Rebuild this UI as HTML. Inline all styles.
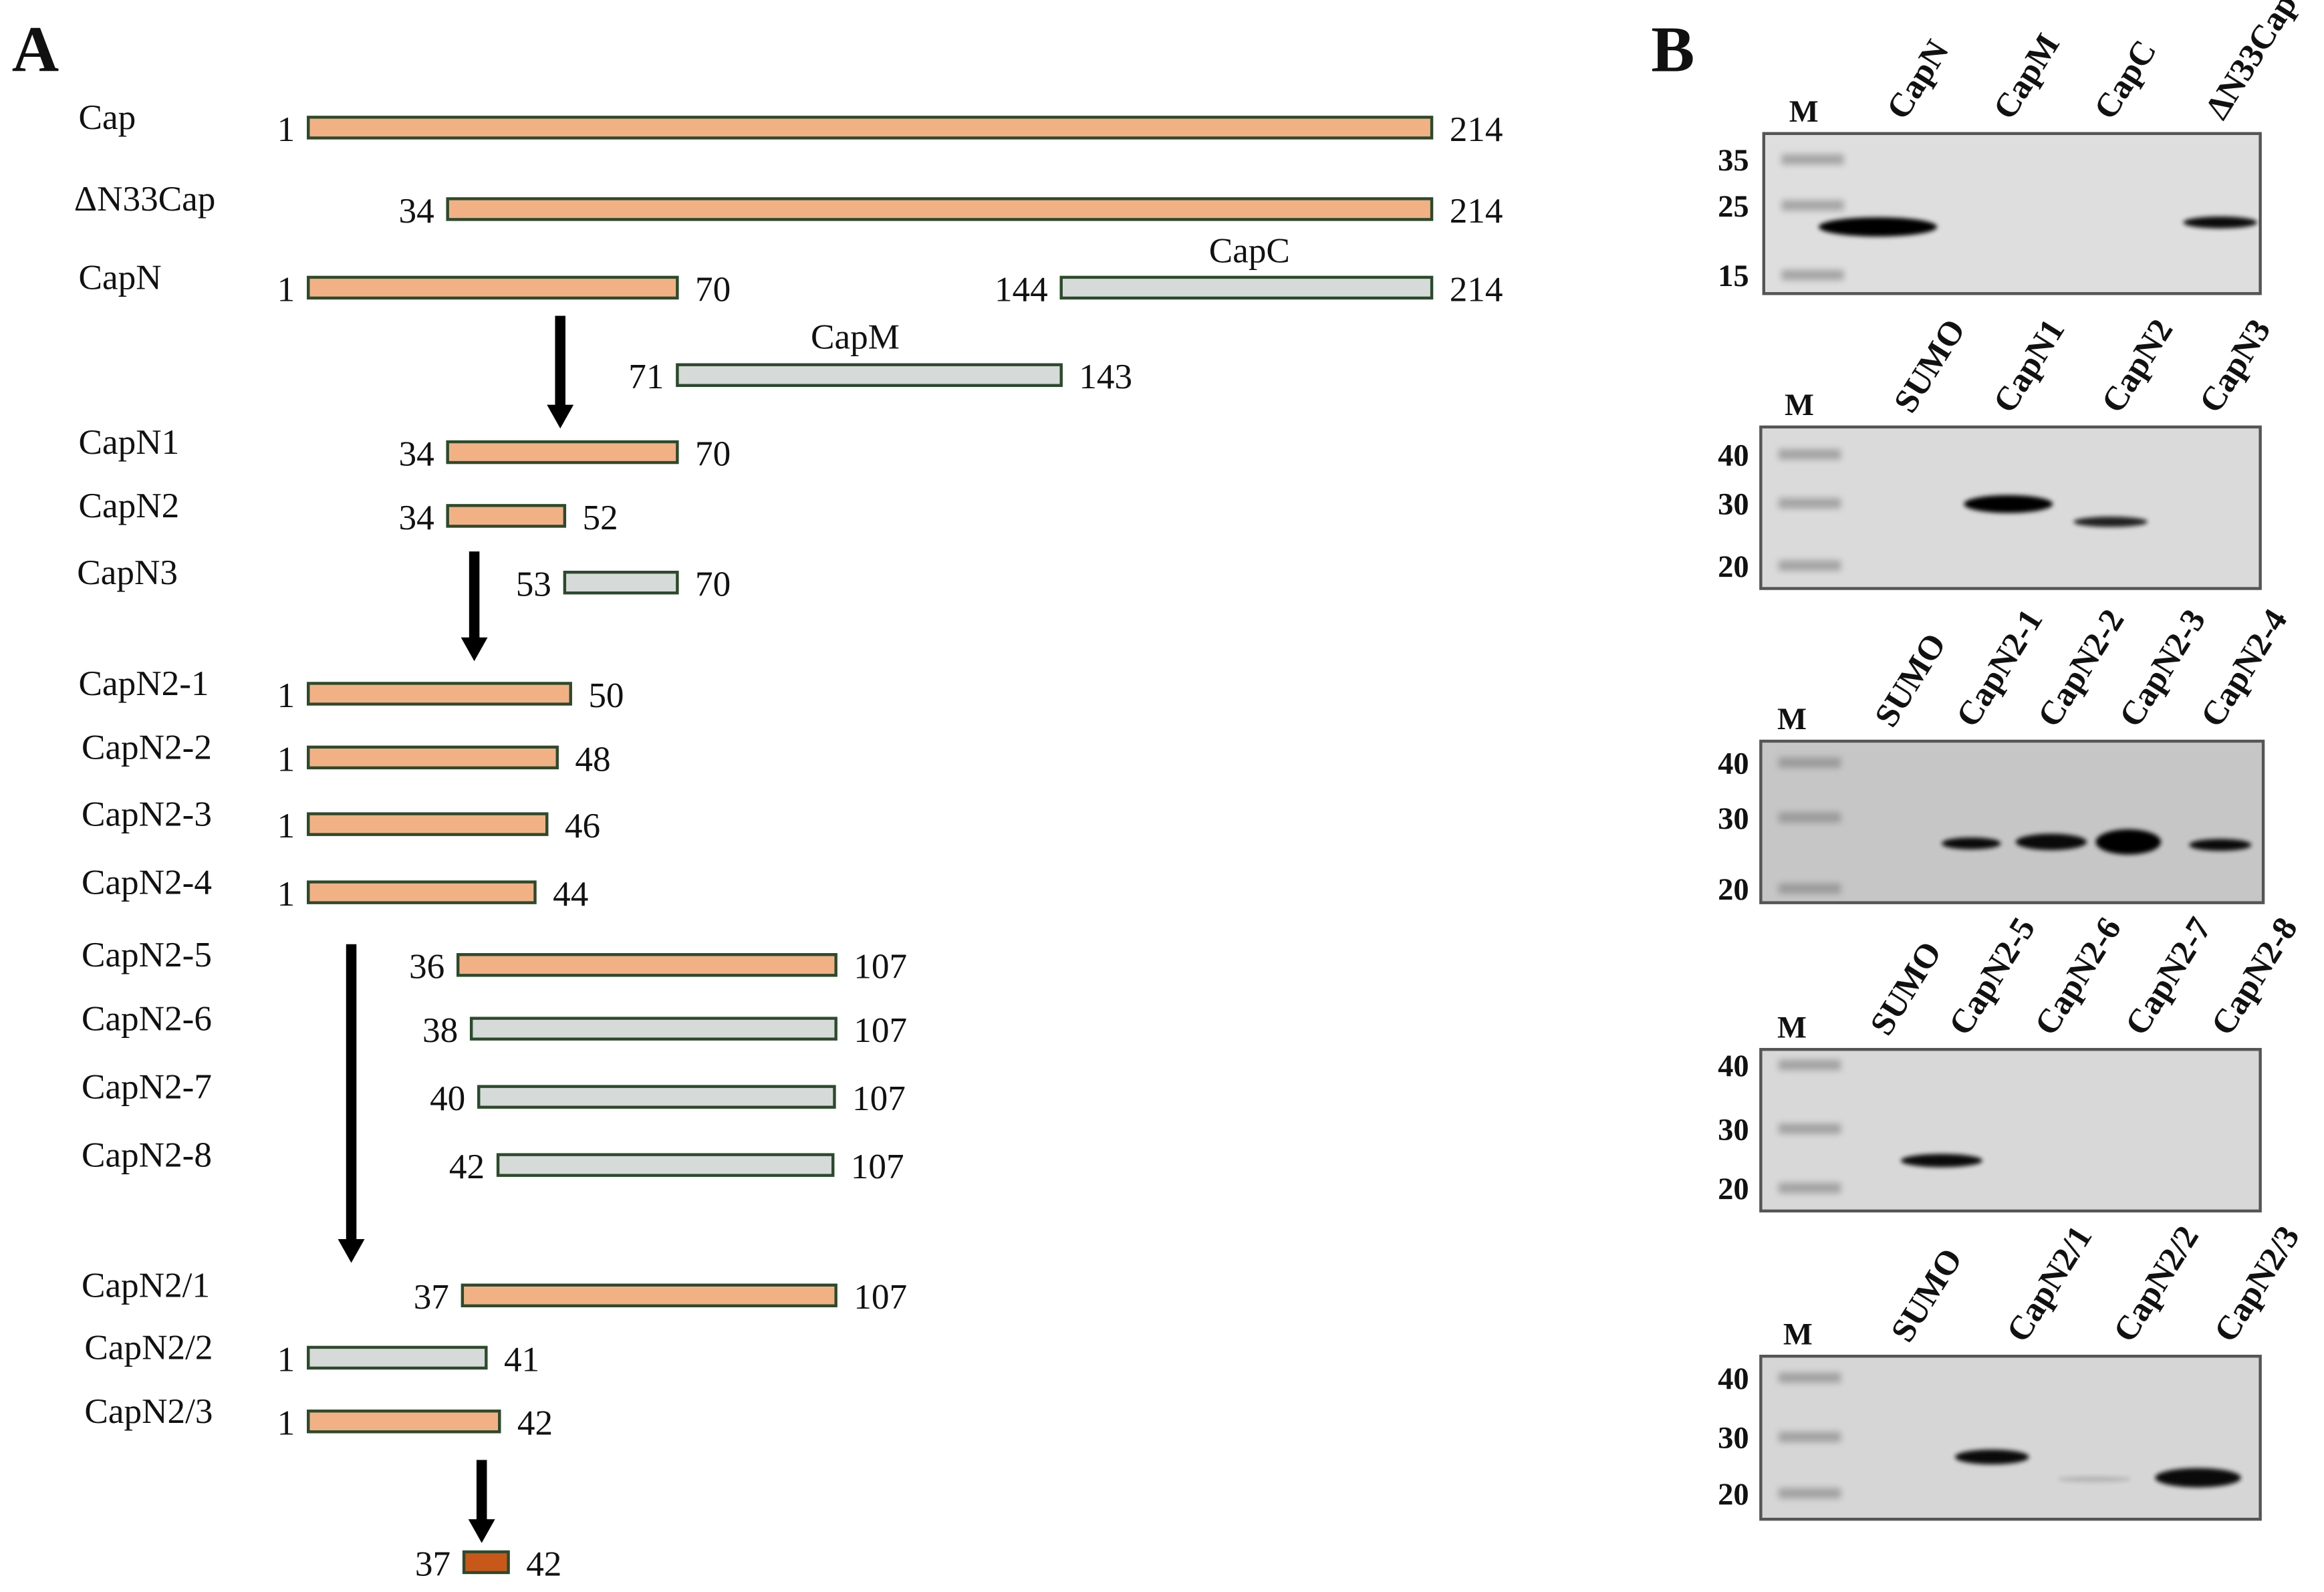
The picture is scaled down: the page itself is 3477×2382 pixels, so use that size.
<!DOCTYPE html>
<html><head><meta charset="utf-8"><style>
html,body{margin:0;padding:0;background:#fff;}
svg{display:block;}
text{font-family:"Liberation Serif",serif;fill:#111;}
</style></head><body>
<svg id="fig" width="3477" height="2382" viewBox="0 0 1568 1074" xmlns="http://www.w3.org/2000/svg">
<defs>
<filter id="blur" x="-20%" y="-50%" width="140%" height="200%"><feGaussianBlur stdDeviation="1.6"/></filter>
<filter id="blur2" x="-20%" y="-80%" width="140%" height="260%"><feGaussianBlur stdDeviation="2.2"/></filter>
</defs>
<text x="8" y="48" font-size="44" font-weight="bold">A</text>
<text x="1114" y="48" font-size="44" font-weight="bold">B</text>
<g id="diagram"></g>
<g id="gels"></g>
</svg>
<script>
// Constructs: name, start, end, left x, right x, row y, fill kind
const names = ["Cap","ΔN33Cap","CapN","CapC","CapM","CapN1","CapN2","CapN3","CapN2-1","CapN2-2","CapN2-3","CapN2-4","CapN2-5","CapN2-6","CapN2-7","CapN2-8","CapN2/1","CapN2/2","CapN2/3","core"];
const starts = [1,34,1,144,71,34,34,53,1,1,1,1,36,38,40,42,37,1,1,37];
const ends = [214,214,70,214,143,70,52,70,50,48,46,44,107,107,107,107,107,41,42,42];
const kinds = ["o","o","o","g","g","o","o","g","o","o","o","o","o","g","g","g","o","g","o","d"];
const x1s = [208,302,208,716,457,302,302,381,208,208,208,208,309,318,323,336,312,208,208,313];
const x2s = [966,966,457,966,716,457,381,457,385,376,369,361,564,564,563,562,564,328,337,343];
const ys = [86,141,194,194,253,305,348,393,468,511,556,602,651,694,740,786,874,916,959,1054];
const labelX = [53,50,53,null,null,53,53,52,53,55,55,55,55,55,55,55,55,57,57,null];
const NS="http://www.w3.org/2000/svg";
function mk(tag, attrs, parent){const e=document.createElementNS(NS,tag);for(const k in attrs)e.setAttribute(k,attrs[k]);parent.appendChild(e);return e;}
const dg=document.getElementById('diagram');
const fills={o:"#f2b184",g:"#d6dad8",d:"#c8581a"};
for(let i=0;i<names.length;i++){
  const y=ys[i];
  const r=mk('rect',{x:x1s[i],y:y-7,width:x2s[i]-x1s[i],height:14,fill:fills[kinds[i]],stroke:"#2c4a2c","stroke-width":2},dg);
  
  
  const s=mk('text',{x:x1s[i]-9,y:y+9,"font-size":24,"text-anchor":"end"},dg);
  s.textContent=starts[i];
  
  
  const e=mk('text',{x:x2s[i]+12,y:y+9,"font-size":24},dg);
  e.textContent=ends[i];
  
  
  if(labelX[i]!==null){
    const t=mk('text',{x:labelX[i],y:y+1,"font-size":24},dg);
    t.textContent=names[i];
    
    
  }
}
let t=mk('text',{x:843,y:177,"font-size":24,"text-anchor":"middle"},dg);t.textContent="CapC";


t=mk('text',{x:577,y:235,"font-size":24,"text-anchor":"middle"},dg);t.textContent="CapM";


const arrows=[[378,213,289],[320,372,446],[237,637,852],[325,985,1041]];
arrows.forEach((a,i)=>{
  const g=mk('g',{},dg);
  
  
  mk('rect',{x:a[0]-3.5,y:a[1],width:7,height:a[2]-a[1]-14,fill:"#000"},g);
  mk('polygon',{points:`${a[0]-9},${a[2]-16} ${a[0]+9},${a[2]-16} ${a[0]},${a[2]}`,fill:"#000"},g);
});

// Gels
const gelBoxes=[[1190,90,1525,198],[1188,288,1525,397],[1188,500,1527,609],[1188,708,1525,817],[1188,915,1525,1025]];
const gelBg=["#dedede","#dadada","#c6c6c6","#d8d8d8","#d6d6d6"];
const laneNames=[["CapN","CapM","CapC","ΔN33Cap"],["SUMO","CapN1","CapN2","CapN3"],["SUMO","CapN2-1","CapN2-2","CapN2-3","CapN2-4"],["SUMO","CapN2-5","CapN2-6","CapN2-7","CapN2-8"],["SUMO","CapN2/1","CapN2/2","CapN2/3"]];
const laneX=[[1285,1357,1425,1500],[1290,1357,1430,1496],[1277,1332,1387,1442,1497],[1274,1327,1385,1446,1504],[1288,1366,1438,1506]];
const mX=[1217,1214,1209,1209,1213];
const markers=[["35","25","15"],["40","30","20"],["40","30","20"],["40","30","20"],["40","30","20"]];
const markerY=[[107,138,185],[306,339,381],[514,551,599],[718,761,801],[929,969,1007]];
const bands=[[[1267,153,80,13],[1498,150,50,8]],[[1355,340,60,12],[1424,352,50,7]],[[1330,569,40,8],[1384,568,48,11],[1436,568,44,17],[1498,570,42,8]],[[1310,783,55,9]],[[1344,983,50,10],[1483,997,58,13],[1413,998,50,4]]];
const bandOp=[[1,0.95],[1,0.85],[0.95,0.95,1,0.95],[0.95],[0.95,0.95,0.15]];
const gg=document.getElementById('gels');
gelBoxes.forEach((b,gi)=>{
  const g=mk('g',{},gg);
  
  
  const r=mk('rect',{x:b[0],y:b[1],width:b[2]-b[0],height:b[3]-b[1],fill:gelBg[gi],stroke:"#555","stroke-width":2},g);
  
  
  const m=mk('text',{x:mX[gi],y:b[1]-8,"font-size":21,"font-weight":"bold","text-anchor":"middle"},g);
  m.textContent="M";
  
  
  markers[gi].forEach((mk_,k)=>{
    const yy=markerY[gi][k];
    const lt=mk('text',{x:1180,y:yy+8,"font-size":21,"font-weight":"bold","text-anchor":"end"},g);
    lt.textContent=mk_;
    
    
    const mb=mk('rect',{x:b[0]+12,y:yy-3,width:42,height:7,fill:"#777",opacity:0.55,filter:"url(#blur2)"},g);
    
    
  });
  laneNames[gi].forEach((ln,k)=>{
    const lx=laneX[gi][k];
    const lt=mk('text',{x:lx,y:b[1]-8,"font-size":23,"font-weight":"bold",transform:`rotate(-58 ${lx} ${b[1]-8})`,"text-anchor":"start"},g);
    lt.textContent=ln;
    
    
  });
  bands[gi].forEach((bd,k)=>{
    const e=mk('ellipse',{cx:bd[0],cy:bd[1],rx:bd[2]/2,ry:bd[3]/2,fill:"#000",opacity:bandOp[gi][k],filter:"url(#blur)"},g);
    
    
  });
});
</script>
</body></html>
